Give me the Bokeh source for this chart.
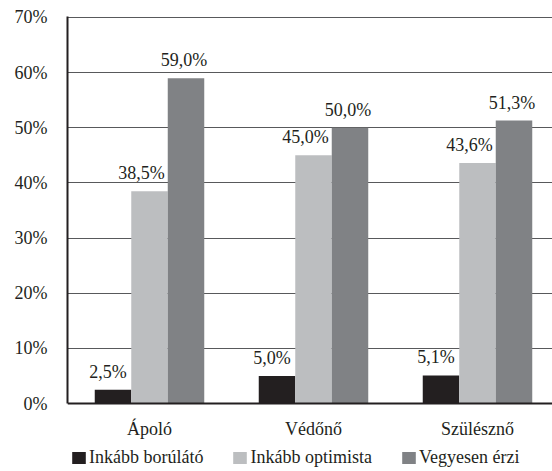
from bokeh.plotting import figure
from bokeh.models import (ColumnDataSource, Range1d, FixedTicker, Legend, LegendItem,
                          LabelSet, Span)
from bokeh.transform import dodge
from bokeh.embed import file_html
from bokeh.resources import INLINE

# --- data -------------------------------------------------------------
categories = ["Ápoló", "Védőnő", "Szülésznő"]
series_names = ["Inkább borúlátó", "Inkább optimista", "Vegyesen érzi"]
borulato = [2.5, 5.0, 5.1]
optimista = [38.5, 45.0, 43.6]
vegyesen = [59.0, 50.0, 51.3]
y_ticks = [0, 10, 20, 30, 40, 50, 60, 70]
y_tick_labels = [f"{t}%" for t in y_ticks]

# --- styling ----------------------------------------------------------
FONT = "Liberation Serif"
FS = "18px"
TEXT = "#231f20"
COLORS = ["#231f20", "#bcbec0", "#808285"]
GROUP_PX = 164.0          # horizontal space per category
BAR_PX = 36.5             # bar width in pixels
LEFT, TOP = 67, 16
W, H = 552, 471
PX_PER_UNIT = 387 / 70.18  # vertical scale of the value axis
frame_w = W - LEFT
frame_h = H - TOP
y_bottom = -(frame_h - 387) / PX_PER_UNIT   # room under the baseline for labels and legend
bar_w = BAR_PX / GROUP_PX
offsets = [-bar_w, 0.0, bar_w]
label_shift = [-5, -8, -2]   # nudge value labels left a little


def fmt(v):
    return f"{v:.1f}".replace(".", ",") + "%"


x_center = [i + 0.5 for i in range(len(categories))]

p = figure(frame_width=frame_w, frame_height=frame_h, output_backend="svg",
           toolbar_location=None,
           x_range=Range1d(0, frame_w / GROUP_PX), y_range=Range1d(y_bottom, 70.18),
           min_border_left=LEFT, min_border_right=0, min_border_top=TOP,
           min_border_bottom=0)
p.outline_line_color = None
p.background_fill_color = "white"
p.border_fill_color = "white"

renderers = []
for vals, off, col, shift in zip([borulato, optimista, vegyesen], offsets, COLORS, label_shift):
    src = ColumnDataSource(dict(x=x_center, top=vals, lab=[fmt(v) for v in vals]))
    r = p.vbar(x=dodge("x", off, range=p.x_range), top="top", width=bar_w, bottom=0,
               source=src, fill_color=col, line_color=None)
    renderers.append(r)
    labels = LabelSet(x=dodge("x", off, range=p.x_range), y="top", text="lab", source=src,
                      text_align="center", text_baseline="bottom", x_offset=shift, y_offset=8,
                      text_font=FONT, text_font_size=FS, text_color=TEXT)
    p.add_layout(labels)

# baseline and category names under it
p.add_layout(Span(location=0, dimension="width", line_color=TEXT, line_width=2))
cat_src = ColumnDataSource(dict(x=x_center, y=[0] * len(categories), name=categories))
p.add_layout(LabelSet(x="x", y="y", text="name", source=cat_src, text_align="center",
                      text_baseline="top", y_offset=-15, text_font=FONT,
                      text_font_size=FS, text_color=TEXT))
p.xaxis.visible = False

# value axis
yax = p.yaxis[0]
yax.ticker = FixedTicker(ticks=y_ticks)
yax.major_label_overrides = {t: l for t, l in zip(y_ticks, y_tick_labels)}
yax.bounds = (0, 70.18)
yax.axis_line_color = TEXT
yax.axis_line_width = 2
yax.major_tick_line_color = None
yax.minor_tick_line_color = None
yax.major_label_text_font = FONT
yax.major_label_text_font_size = FS
yax.major_label_text_color = TEXT
yax.major_label_standoff = 14

p.xgrid.visible = False
p.ygrid.ticker = FixedTicker(ticks=y_ticks[1:])
p.ygrid.grid_line_color = "#58595b"
p.ygrid.grid_line_width = 1

legend = Legend(items=[LegendItem(label=n, renderers=[r]) for n, r in zip(series_names, renderers)],
                orientation="horizontal", location="bottom_left",
                glyph_width=17, glyph_height=15, label_standoff=2, spacing=28,
                padding=0, margin=3, border_line_color=None, background_fill_alpha=0,
                label_text_font=FONT, label_text_font_size=FS, label_text_color=TEXT)
p.add_layout(legend, "center")

open("out.html", "w").write(file_html(p, INLINE))
